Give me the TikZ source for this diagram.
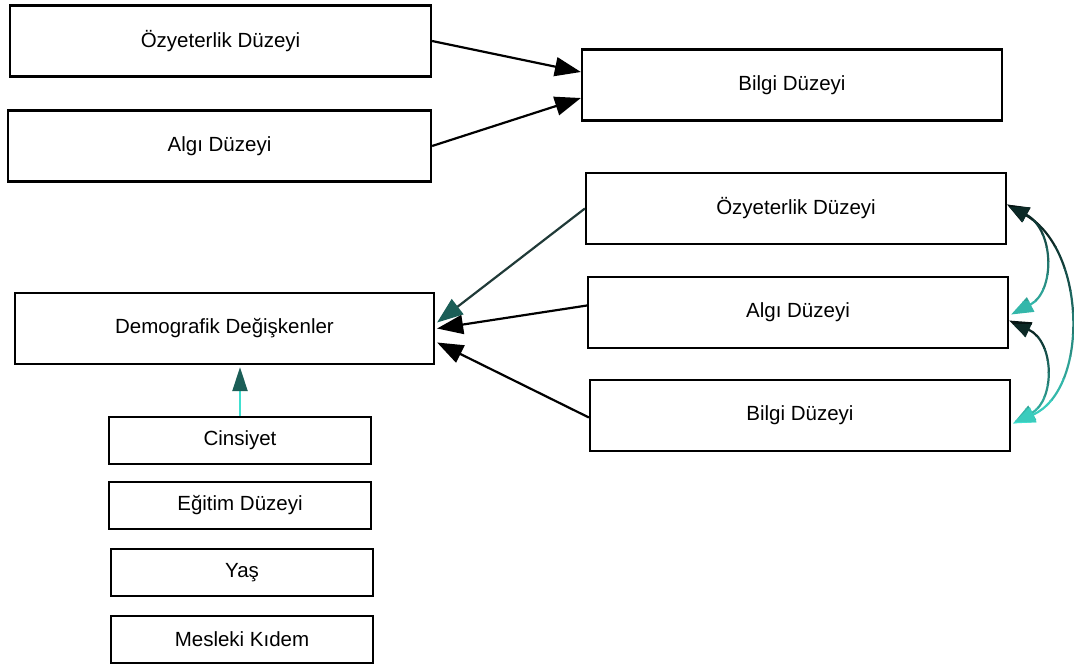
\documentclass[tikz,border=0pt]{standalone}
\usepackage{fontspec}
\setmainfont{Liberation Sans}
\usetikzlibrary{calc,arrows.meta,positioning}

\definecolor{turq}{RGB}{64,224,208}
\definecolor{deepteal}{RGB}{27,94,87}
\definecolor{slateline}{RGB}{32,58,56}

\begin{document}
\begin{tikzpicture}[x=1pt,y=1pt,yscale=-1,xscale=1,
  box/.style = {draw, line width=2.2pt, rectangle, inner sep=0pt,
  minimum width=420pt, minimum height=71pt,
  font=\fontsize{20.5}{24}\selectfont},
  smallbox/.style = {box, minimum width=262pt, minimum height=47pt},
  link/.style = {line width=2.2pt, -{Triangle[length=26pt,width=19pt]}},
  twoway/.style = {line width=2.2pt,
  {Triangle[length=22pt,width=16pt]}-{Triangle[length=22pt,width=16pt]}}
  ]

  \useasboundingbox (0,0) rectangle (1074,667);

  % left column
  \node[box, minimum width=421pt] (ozA) at (220.5,41) {Özyeterlik Düzeyi};
  \node[box, minimum width=423pt] (algA) at (219.5,146) {Algı Düzeyi};
  \node[box, minimum width=419pt] (demo) at (224.5,328.5) {Demografik Değişkenler};

  \node[smallbox] (cins) at (240,440.5) {Cinsiyet};
  \node[smallbox] (egit) at (240,505.5) {Eğitim Düzeyi};
  \node[smallbox] (yas) at (242,572.5) {Yaş};
  \node[smallbox] (mes) at (242,639.5) {Mesleki Kıdem};

  % right column
  \node[box] (bilA) at (792,85) {Bilgi Düzeyi};
  \node[box] (ozB) at (796,208.5) {Özyeterlik Düzeyi};
  \node[box] (algB) at (798,312.5) {Algı Düzeyi};
  \node[box] (bilB) at (800,415.5) {Bilgi Düzeyi};

  \draw[link] (ozA.east) -- ($(bilA.west)+(0,-13)$);
  \draw[link] (algA.east) -- ($(bilA.west)+(0,13)$);

  \draw[link, slateline, -{Triangle[length=26pt,width=19pt,color=deepteal]}]
    (ozB.west) -- ($(demo.east)+(2,-6)$);
  \draw[link] ($(algB.west)+(0,-7)$) -- ($(demo.east)+(2,0)$);
  \draw[link] ($(bilB.west)+(0,2)$) -- ($(demo.east)+(2,14)$);

  \draw[link, turq, -{Triangle[length=24pt,width=15pt,color=deepteal]}]
    (cins.north) -- ($(cins.north |- demo.south)+(0,2)$);

  % curved links, black to turquoise
  \coordinate (ozE) at ($(ozB.east)+(0,-4)$);
  \coordinate (algE) at ($(algB.east)+(2,2)$);
  \coordinate (algF) at ($(algB.east)+(0,8)$);
  \coordinate (bilE) at ($(bilB.east)+(2,8)$);
  \foreach \k in {0,...,11} {
    \pgfmathsetmacro\mix{100-\k*100/11}
    \begin{scope}
      \clip (990,{180+\k*13.5}) rectangle (1080,{180+(\k+1)*13.5});
      \draw[twoway, draw=black!\mix!turq] (ozE) .. controls (1055,230) and (1055,292) .. (algE);
    \end{scope}
    \begin{scope}
      \clip (990,{300+\k*12}) rectangle (1080,{300+(\k+1)*12});
      \draw[twoway, draw=black!\mix!turq] (algF) .. controls (1055,342) and (1055,400) .. (bilE);
    \end{scope}
    \begin{scope}
      \clip (990,{180+\k*22}) rectangle (1080,{180+(\k+1)*22});
      \draw[twoway, draw=black!\mix!turq] (ozE) .. controls (1087,250) and (1089,390) .. (bilE);
    \end{scope}
  }

\end{tikzpicture}
\end{document}
